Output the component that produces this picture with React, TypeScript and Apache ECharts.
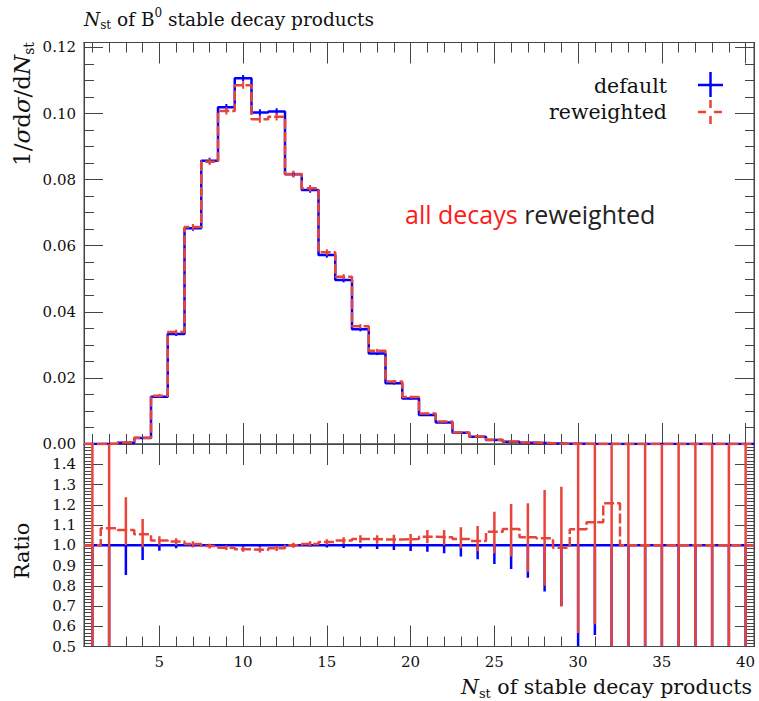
import React, { useEffect, useRef } from "react";
import * as echarts from "echarts";

// ---------- data ----------
const binCenters = [1, 2, 3, 4, 5, 6, 7, 8, 9, 10, 11, 12, 13, 14, 15, 16, 17, 18, 19, 20,
  21, 22, 23, 24, 25, 26, 27, 28, 29, 30, 31, 32, 33, 34, 35, 36, 37, 38, 39, 40];

const defaultValues = [0.00003, 0.0001, 0.0004, 0.0018, 0.0143, 0.0333, 0.0653, 0.0857, 0.1019, 0.1107,
  0.1003, 0.1006, 0.0816, 0.0769, 0.0572, 0.0496, 0.0347, 0.0274, 0.0184, 0.0138,
  0.0088, 0.0065, 0.0034, 0.0022, 0.0012, 0.0007, 0.0004, 0.0002, 0.0001, 0.00005,
  0.00003, 0.00002, 0, 0, 0, 0, 0, 0, 0, 0];

const reweightedValues = [0.00003, 0.00011, 0.00043, 0.0019, 0.0146, 0.0339, 0.0657, 0.0854, 0.1008, 0.1086,
  0.0983, 0.099, 0.0817, 0.0774, 0.058, 0.0506, 0.0356, 0.0282, 0.0189, 0.0142,
  0.0092, 0.0068, 0.0035, 0.00225, 0.00128, 0.00076, 0.00042, 0.00021, 0.0001, 0.00005,
  0.00003, 0.00002, 0, 0, 0, 0, 0, 0, 0, 0];

const defaultErrors = [0, 0.00002, 0.00005, 0.0001, 0.0004, 0.0006, 0.0008, 0.0009, 0.001, 0.001,
  0.001, 0.001, 0.0009, 0.0009, 0.0008, 0.0007, 0.0006, 0.0005, 0.0004, 0.0004,
  0.0003, 0.0003, 0.0002, 0.0002, 0.0001, 0.0001, 0, 0, 0, 0,
  0, 0, 0, 0, 0, 0, 0, 0, 0, 0];

const reweightedErrors = [0, 0.00003, 0.00007, 0.00012, 0.0005, 0.0007, 0.0009, 0.001, 0.0011, 0.0011,
  0.0011, 0.0011, 0.001, 0.001, 0.0009, 0.0008, 0.0007, 0.0006, 0.0005, 0.0004,
  0.0003, 0.0003, 0.0002, 0.0002, 0.0001, 0.0001, 0, 0, 0, 0,
  0, 0, 0, 0, 0, 0, 0, 0, 0, 0];

// ratio reweighted / default
const ratioValues = [1.0, 1.084, 1.075, 1.054, 1.023, 1.018, 1.006, 0.996, 0.988, 0.98,
  0.977, 0.985, 1.0, 1.006, 1.016, 1.023, 1.031, 1.029, 1.029, 1.031,
  1.042, 1.039, 1.031, 1.021, 1.067, 1.08, 1.039, 1.034, 0.988, 1.079,
  1.113, 1.207, 1, 1, 1, 1, 1, 1, 1, 1];

const ratioRedHigh = [1.5, 1.5, 1.237, 1.13, 1.045, 1.035, 1.02, 1.008, 1.0, 0.992,
  0.99, 0.998, 1.012, 1.02, 1.03, 1.04, 1.05, 1.05, 1.052, 1.056,
  1.075, 1.075, 1.089, 1.095, 1.166, 1.204, 1.207, 1.273, 1.289, 1.5,
  1.5, 1.5, 1.5, 1.5, 1.5, 1.5, 1.5, 1.5, 1.5, 1.5];

const ratioRedLow = [0.5, 0.5, 1.0, 0.99, 1.0, 1.0, 0.992, 0.984, 0.976, 0.968,
  0.964, 0.972, 0.988, 0.992, 1.002, 1.006, 1.012, 1.008, 1.006, 1.006,
  1.01, 1.0, 0.985, 0.97, 0.96, 0.944, 0.869, 0.8, 0.697, 0.567,
  0.61, 0.5, 0.5, 0.5, 0.5, 0.5, 0.5, 0.5, 0.5, 0.5];

const ratioBlueLow = [0.5, 0.5, 0.853, 0.927, 0.973, 0.985, 0.99, 0.992, 0.993, 0.993,
  0.993, 0.993, 0.992, 0.991, 0.989, 0.987, 0.985, 0.981, 0.977, 0.972,
  0.968, 0.96, 0.944, 0.931, 0.907, 0.883, 0.84, 0.771, 0.7, 0.5,
  0.557, 0.5, 0.5, 0.5, 0.5, 0.5, 0.5, 0.5, 0.5, 0.5];

const xMajorTicks = [5, 10, 15, 20, 25, 30, 35, 40];
const xMinorTicks = binCenters;
const mainYLabels = [0, 0.02, 0.04, 0.06, 0.08, 0.1, 0.12];
const ratioYLabels = [0.5, 0.6, 0.7, 0.8, 0.9, 1.0, 1.1, 1.2, 1.3, 1.4];
const ratioYMajor = [0.5, 0.6, 0.7, 0.8, 0.9, 1.0, 1.1, 1.2, 1.3, 1.4, 1.5];

// ---------- styling ----------
const BLUE = "#0000ff";
const RED = "#e8443a";
const SERIF = "DejaVu Serif";
const AXIS = "#444";
const L = 84;
const W = 670;
const TOP = 42.5;
const MID = 444;
const BOT = 646.5;
const X_MIN = 0.5;
const X_MAX = 40.5;

function range(a: number, b: number, step: number) {
  const out: number[] = [];
  const n = Math.round((b - a) / step);
  for (let i = 0; i <= n; i++) out.push(+(a + i * step).toFixed(6));
  return out;
}
const mainYMinor = range(0, 0.12, 0.005);
const ratioYMinor = range(0.5, 1.5, 1 / 60);

function stepData(vals: number[]) {
  const pts = binCenters.map((c, i) => [c - 0.5, vals[i]]);
  pts.push([binCenters[binCenters.length - 1] + 0.5, vals[vals.length - 1]]);
  return pts;
}

function xAx(grid: number, pos: string, ticks: number[], len: number, labels: boolean) {
  return {
    type: "value", gridIndex: grid, position: pos, min: X_MIN, max: X_MAX,
    axisLine: { show: true, onZero: false, lineStyle: { color: AXIS, width: 1 } },
    axisTick: { show: true, inside: true, length: len, customValues: ticks, lineStyle: { color: AXIS, width: 1 } },
    axisLabel: labels
      ? { show: true, customValues: xMajorTicks, margin: 8, color: "#111", fontFamily: SERIF, fontSize: 15 }
      : { show: false },
    splitLine: { show: false },
  };
}

function yAx(grid: number, pos: string, min: number, max: number, ticks: number[], len: number,
  labelVals: number[] | null, digits: number) {
  return {
    type: "value", gridIndex: grid, position: pos, min, max,
    axisLine: { show: true, onZero: false, lineStyle: { color: AXIS, width: 1 } },
    axisTick: { show: true, inside: true, length: len, customValues: ticks, lineStyle: { color: AXIS, width: 1 } },
    axisLabel: labelVals
      ? {
          show: true, customValues: labelVals, margin: 8, color: "#111", fontFamily: SERIF, fontSize: 15,
          formatter: (v: number) => v.toFixed(digits),
        }
      : { show: false },
    splitLine: { show: false },
  };
}

function errBar(xi: number, yi: number, data: number[][], color: string, width: number, z: number) {
  return {
    type: "custom", xAxisIndex: xi, yAxisIndex: yi, data, silent: true, z, clip: true,
    encode: { x: 0, y: [1, 2] },
    renderItem: (_p: any, api: any) => {
      const a = api.coord([api.value(0), api.value(1)]);
      const b = api.coord([api.value(0), api.value(2)]);
      return {
        type: "line",
        shape: { x1: a[0], y1: a[1], x2: b[0], y2: b[1] },
        style: { stroke: color, lineWidth: width },
      };
    },
  };
}

function stepLine(xi: number, yi: number, vals: number[], color: string, dashed: boolean, z: number) {
  return {
    type: "line", xAxisIndex: xi, yAxisIndex: yi, data: stepData(vals), step: "end",
    symbol: "none", showSymbol: false, silent: true, z,
    lineStyle: { color, width: 2.5, type: dashed ? [10, 3] : "solid" },
  };
}

export default function App() {
  const ref = useRef<HTMLDivElement>(null);
  useEffect(() => {
    if (!ref.current) return;
    const chart = echarts.init(ref.current, undefined, { renderer: "svg" });
    const defaultRatio = binCenters.map(() => 1);

    const option: any = {
      animation: false,
      backgroundColor: "#ffffff",
      grid: [
        { left: L, top: TOP, width: W, height: MID - TOP, show: true, borderColor: AXIS, borderWidth: 1, backgroundColor: "transparent" },
        { left: L, top: MID, width: W, height: BOT - MID, show: true, borderColor: AXIS, borderWidth: 1, backgroundColor: "transparent" },
      ],
      xAxis: [
        xAx(0, "bottom", xMajorTicks, 21, false),
        xAx(0, "bottom", xMinorTicks, 10, false),
        xAx(0, "top", xMajorTicks, 21, false),
        xAx(0, "top", xMinorTicks, 10, false),
        xAx(1, "bottom", xMajorTicks, 21, true),
        xAx(1, "bottom", xMinorTicks, 10, false),
        xAx(1, "top", xMajorTicks, 21, false),
        xAx(1, "top", xMinorTicks, 10, false),
      ],
      yAxis: [
        yAx(0, "left", 0, 0.1215, mainYLabels, 19, mainYLabels, 2),
        yAx(0, "left", 0, 0.1215, mainYMinor, 10, null, 2),
        yAx(0, "right", 0, 0.1215, mainYLabels, 19, null, 2),
        yAx(0, "right", 0, 0.1215, mainYMinor, 9, null, 2),
        yAx(1, "left", 0.5, 1.5, ratioYMajor, 19, ratioYLabels, 1),
        yAx(1, "left", 0.5, 1.5, ratioYMinor, 7, null, 1),
        yAx(1, "right", 0.5, 1.5, ratioYMajor, 19, null, 1),
        yAx(1, "right", 0.5, 1.5, ratioYMinor, 7, null, 1),
      ],
      series: [
        stepLine(0, 0, defaultValues, BLUE, false, 2),
        errBar(0, 0, binCenters.map((c, i) => [c, defaultValues[i] - defaultErrors[i], defaultValues[i] + defaultErrors[i]]), BLUE, 2, 3),
        stepLine(0, 0, reweightedValues, RED, true, 4),
        errBar(0, 0, binCenters.map((c, i) => [c, reweightedValues[i] - reweightedErrors[i], reweightedValues[i] + reweightedErrors[i]]), RED, 2, 5),

        stepLine(4, 4, defaultRatio, BLUE, false, 2),
        errBar(4, 4, binCenters.map((c, i) => [c, ratioBlueLow[i], 1]), BLUE, 2.5, 3),
        stepLine(4, 4, ratioValues, RED, true, 4),
        errBar(4, 4, binCenters.map((c, i) => [c, ratioRedLow[i], ratioRedHigh[i]]), RED, 2.5, 5),
      ],
      graphic: [
        {
          type: "text", x: 84, y: 19, z: 10,
          style: {
            text: "{i|N}{s|st}{n| of B}{p|0}{n| stable decay products}",
            fill: "#111", verticalAlign: "middle", align: "left",
            rich: {
              i: { fontFamily: SERIF, fontSize: 18.5, fontStyle: "italic", lineHeight: 24, fill: "#111" },
              n: { fontFamily: SERIF, fontSize: 18.5, lineHeight: 24, fill: "#111" },
              s: { fontFamily: SERIF, fontSize: 12, lineHeight: 12, verticalAlign: "bottom", fill: "#111" },
              p: { fontFamily: SERIF, fontSize: 12, lineHeight: 13, verticalAlign: "top", fill: "#111" },
            },
          },
        },
        {
          type: "text", x: 22, y: 42, rotation: Math.PI / 2, z: 10,
          style: {
            text: "{n|1/}{i|σ}{n|d}{i|σ}{n|/d}{i|N}{s|st}",
            fill: "#111", align: "right", verticalAlign: "middle",
            rich: {
              i: { fontFamily: SERIF, fontSize: 23, fontStyle: "italic", lineHeight: 28, fill: "#111" },
              n: { fontFamily: SERIF, fontSize: 23, lineHeight: 28, fill: "#111" },
              s: { fontFamily: SERIF, fontSize: 14, lineHeight: 14, verticalAlign: "bottom", fill: "#111" },
            },
          },
        },
        {
          type: "text", x: 22, y: 551, rotation: Math.PI / 2, z: 10,
          style: { text: "Ratio", fill: "#111", fontFamily: SERIF, fontSize: 21, align: "center", verticalAlign: "middle" },
        },
        {
          type: "text", x: 752, y: 687, z: 10,
          style: {
            text: "{i|N}{s|st}{n| of stable decay products}",
            fill: "#111", align: "right", verticalAlign: "middle",
            rich: {
              i: { fontFamily: SERIF, fontSize: 20.5, fontStyle: "italic", lineHeight: 26, fill: "#111" },
              n: { fontFamily: SERIF, fontSize: 20.5, lineHeight: 26, fill: "#111" },
              s: { fontFamily: SERIF, fontSize: 13, lineHeight: 13, verticalAlign: "bottom", fill: "#111" },
            },
          },
        },
        // legend
        {
          type: "text", x: 667, y: 86, z: 10,
          style: { text: "default", fill: "#111", fontFamily: SERIF, fontSize: 20.5, align: "right", verticalAlign: "middle" },
        },
        {
          type: "text", x: 667, y: 112, z: 10,
          style: { text: "reweighted", fill: "#111", fontFamily: SERIF, fontSize: 20.5, align: "right", verticalAlign: "middle" },
        },
        { type: "line", z: 10, shape: { x1: 698, y1: 85, x2: 723, y2: 85 }, style: { stroke: BLUE, lineWidth: 2.5 } },
        { type: "line", z: 10, shape: { x1: 710.5, y1: 72, x2: 710.5, y2: 97 }, style: { stroke: BLUE, lineWidth: 2.5 } },
        { type: "line", z: 10, shape: { x1: 698, y1: 112, x2: 722, y2: 112 }, style: { stroke: RED, lineWidth: 2.5, lineDash: [8, 8] } },
        { type: "line", z: 10, shape: { x1: 710.5, y1: 100, x2: 710.5, y2: 124 }, style: { stroke: RED, lineWidth: 2.5, lineDash: [8, 8] } },
        // annotation
        {
          type: "text", x: 405, y: 214, z: 10,
          style: {
            text: "{r|all decays}{k| reweighted}",
            align: "left", verticalAlign: "middle",
            rich: {
              r: { fontFamily: "Open Sans", fontSize: 25, fill: "#ff1a1a" },
              k: { fontFamily: "Open Sans", fontSize: 25, fill: "#222" },
            },
          },
        },
      ],
    };
    chart.setOption(option);
    return () => chart.dispose();
  }, []);

  return (
    <div
      ref={ref}
      style={{ position: "absolute", left: 0, top: 0, width: 759, height: 701, background: "#fff" }}
    />
  );
}
